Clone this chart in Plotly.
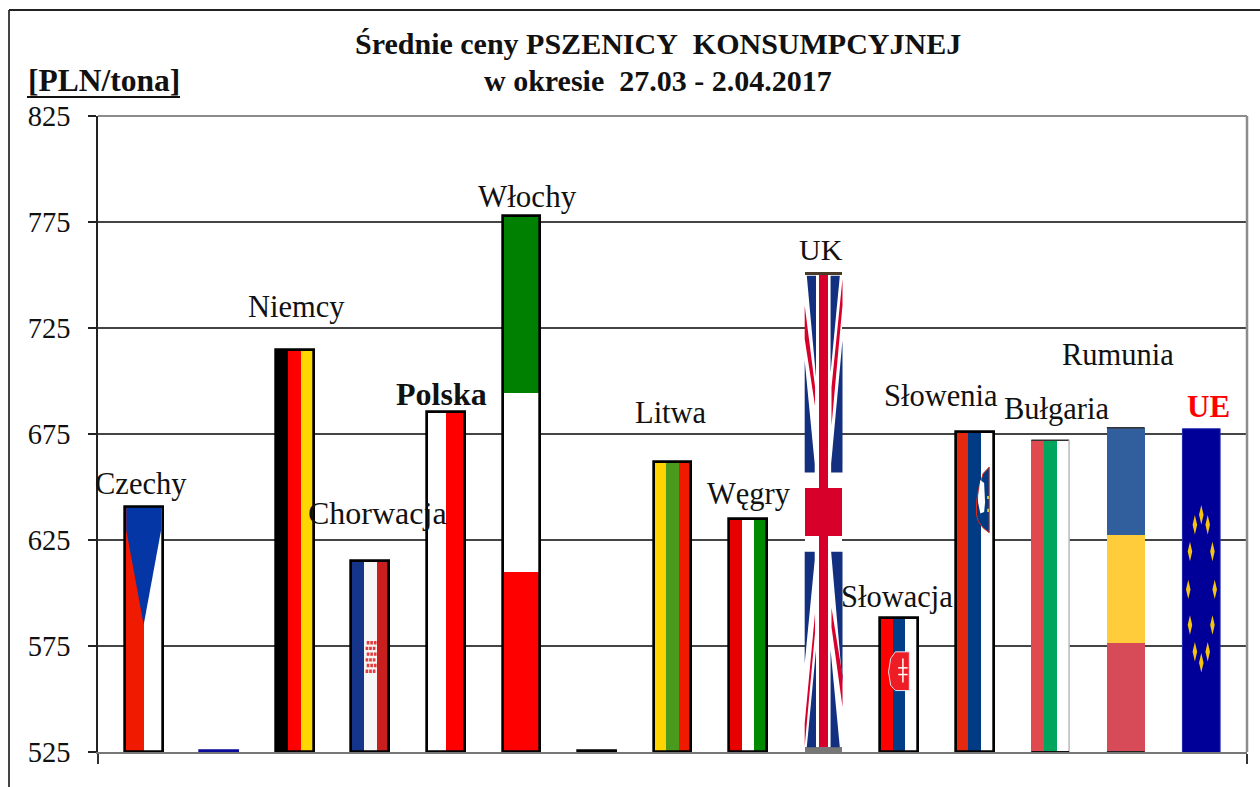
import plotly.graph_objects as go

# ---------- data ----------
countries = ["Czechy", "Dania", "Niemcy", "Chorwacja", "Polska", "Włochy", "Francja", "Litwa",
             "Węgry", "UK", "Słowacja", "Słowenia", "Bułgaria", "Rumunia", "UE"]
prices = [640.5, 525.7, 714.5, 615, 685.3, 778, 525.7, 662, 635, 751.5, 588, 676, 672, 678, 677.5]
y_ticks = [525, 575, 625, 675, 725, 775, 825]
BASE = 525
title_lines = ["Średnie ceny PSZENICY\u00a0\u00a0KONSUMPCYJNEJ", "w okresie\u00a0\u00a027.03 - 2.04.2017"]
unit_label = "[PLN/tona]"

# ---------- flag designs (styles) ----------
vertical = {
    "Czechy": ["#f01a00", "#ffffff"],
    "Niemcy": ["#000000", "#ff0000", "#ffd700"],
    "Chorwacja": ["#14358a", "#f6f6f6", "#c81e1e"],
    "Polska": ["#ffffff", "#ff0000"],
    "Litwa": ["#ffd400", "#4a9a1e", "#f01a00"],
    "Węgry": ["#e60000", "#ffffff", "#008a00"],
    "Słowacja": ["#ff0000", "#003f87", "#ffffff"],
    "Słowenia": ["#e5290f", "#003b84", "#ffffff"],
    "Bułgaria": ["#e04a4e", "#00a65d", "#ffffff"],
    "UE": ["#000099"],
}
horizontal = {  # bottom to top: (colour, from, to) as a share of the bar height
    "Włochy": [("#ff0000", 0, .335), ("#ffffff", .335, .6685), ("#008000", .6685, 1)],
    "Rumunia": [("#d64b57", 0, .336), ("#ffcd3c", .336, .67), ("#315f9e", .67, 1)],
    "UK": [("#ffffff", 0, 1), ("#d6002a", .449, .549), ("#777777", 0, .01), ("#4a3a2a", .994, 1)],
}
no_outline = ["UE", "UK", "Bułgaria", "Rumunia"]
HALF = 0.25  # half of a bar, in category units
OUTLINE_W = 2.7
idx = {c: i for i, c in enumerate(countries)}


def to_xy(country, pts):
    i = idx[country]
    h = prices[i] - BASE
    xs, ys = [], []
    for p in pts:
        if p is None:
            xs.append(None); ys.append(None)
        else:
            xs.append(i + p[0] * HALF)
            ys.append(BASE + p[1] * h)
    return xs, ys


fig = go.Figure()

for c, cols in vertical.items():
    w = 2 * HALF / len(cols)
    for k, col in enumerate(cols):
        fig.add_bar(x=[idx[c]], y=[prices[idx[c]] - BASE], base=[BASE], width=[w],
                    offset=[-HALF + k * w], marker=dict(color=col, line=dict(width=0)))
for c, bands in horizontal.items():
    h = prices[idx[c]] - BASE
    for col, a, b in bands:
        fig.add_bar(x=[idx[c]], y=[(b - a) * h], base=[BASE + a * h], width=[2 * HALF],
                    offset=[-HALF], marker=dict(color=col, line=dict(width=0)))
fig.add_bar(x=[idx["UK"]], y=[(prices[idx["UK"]] - BASE) * .984], base=[BASE + (prices[idx["UK"]] - BASE) * .01],
            width=[2 * HALF * .25], offset=[-HALF * .25], marker=dict(color="#d6002a", line=dict(width=0)))

# outlines carry the actual values
line_w = [0 if c in no_outline else OUTLINE_W for c in countries]
line_c = ["#0a0a9a" if c == "Dania" else "#000000" for c in countries]
fig.add_bar(x=list(range(len(countries))), y=[p - BASE for p in prices], base=[BASE] * len(prices),
            width=[2 * HALF] * len(prices), marker=dict(color="rgba(0,0,0,0)",
            line=dict(color=line_c, width=line_w)))


def poly(country, pts, color, line=None, lw=0):
    xs, ys = to_xy(country, pts)
    fig.add_scatter(x=xs, y=ys, mode="lines", fill="toself", fillcolor=color,
                    line=dict(color=line or color, width=lw), hoverinfo="skip")


def path(country, pts, color, lw):
    xs, ys = to_xy(country, pts)
    fig.add_scatter(x=xs, y=ys, mode="lines", line=dict(color=color, width=lw), hoverinfo="skip",
                    cliponaxis=False)


# Czech triangle
poly("Czechy", [(-.92, .997), (.92, .997), (.92, .906), (0, .52), (-.92, .906), (-.92, .997)], "#0437a5")

# Croatian emblem
cro = []
for row in range(6):
    for col in range(3):
        u = -.18 + col * .19 + (.06 if row % 2 else 0)
        v = .414 + row * .03
        cro += [(u - .07, v), (u + .07, v), (u + .07, v + .018), (u - .07, v + .018), (u - .07, v), None]
poly("Chorwacja", cro, "#e23c3c")

# Union Jack
uk_navy = [
    [(-.89, .992), (-.4, .992), (-.4, .78), (-.89, .992)],
    [(.37, .992), (.86, .992), (.37, .79), (.37, .992)],
    [(-1, .815), (-.47, .60), (-.47, .582), (-1, .582), (-1, .815)],
    [(1, .857), (.4, .60), (.4, .582), (1, .582), (1, .857)],
    [(-1, .417), (-.47, .417), (-.47, .40), (-1, .185), (-1, .417)],
    [(.4, .417), (1, .417), (1, .143), (.4, .40), (.4, .417)],
    [(-.89, .01), (-.4, .01), (-.4, .213), (-.89, .01)],
    [(.37, .01), (.86, .01), (.37, .213), (.37, .01)],
]
for p in uk_navy:
    poly("UK", p, "#12307f")
uk_red = [
    [(-1, .93), (-1, .86), (-.45, .72), (-.45, .76), (-1, .93)],
    [(1, .985), (1, .93), (.42, .68), (.42, .76), (1, .985)],
    [(-1, .012), (-1, .06), (-.45, .29), (-.45, .25), (-1, .012)],
    [(1, .095), (1, .16), (.42, .30), (.42, .26), (1, .095)],
]
for p in uk_red:
    poly("UK", p, "#d6002a")

# Slovak shield
poly("Słowacja", [(.54, .75), (-.2, .75), (-.45, .70), (-.56, .60), (-.45, .50), (-.2, .46), (.54, .46), (.54, .75)],
     "#ee1c25", "#dfe8f5", 1)
path("Słowacja", [(.2, .70), (.2, .52), None, (-.05, .63), (.45, .63), None, (-.05, .58), (.45, .58)], "#ffffff", 1.5)

# Slovenian shield
poly("Słowenia", [(.77, .89), (.45, .87), (.2, .82), (.1, .78), (.1, .74), (.2, .72), (.45, .70), (.77, .685), (.77, .89)],
     "#003b84", "#e5290f", 1)
poly("Słowenia", [(.18, .80), (.3, .85), (.5, .84), (.55, .78), (.5, .75), (.3, .745), (.18, .78), (.18, .80)], "#ffffff")
poly("Słowenia", [(.66, .80), (.76, .80), (.76, .79), (.66, .79), None, (.66, .76), (.76, .76), (.76, .75), (.66, .75)], "#d8c040")

# EU stars
stars = [(0, .734), (-.34, .703), (.34, .703), (-.6, .62), (.59, .62), (-.69, .503), (.71, .503),
         (-.6, .393), (.59, .393), (-.34, .31), (.34, .31), (0, .276)]
spts = []
for u, v in stars:
    spts += [(u - .12, v), (u, v + .03), (u + .12, v), (u, v - .03), (u - .12, v), None]
poly("UE", spts, "#f4c40f")

# partial edges of the bars without a full outline
path("Bułgaria", [(-1, 1), (1, 1)], "#333333", 1.5)
path("Bułgaria", [(1, 1), (1, 0)], "#bbbbbb", 1.5)
path("Bułgaria", [(-1, 0), (1, 0)], "#111111", 2)
path("Rumunia", [(-1, 1), (1, 1)], "#333333", 1.5)
path("Rumunia", [(-1, 0), (1, 0)], "#222222", 2)
path("UE", [(-1, 0), (-1, 1), (1, 1), (1, 0)], "#2230b0", 1)

# the flat market: only a sliver of colour shows below its outline
path("Francja", [(-.92, -.8), (.92, -.8)], "#58a020", 1.6)

# ---------- page geometry ----------
W, H = 1260, 787
L, R, T, B = 98, 1247, 116, 752


def px(x):
    return (x - L) / (R - L)


def py(y):
    return (B - y) / (B - T)


def note(text, x, y, size, color="#111111"):
    fig.add_annotation(text=text, x=px(x), y=py(y), xref="paper", yref="paper", showarrow=False,
                       xanchor="center", yanchor="middle", align="center",
                       font=dict(family="Liberation Serif", size=size, color=color))


labels = [("Czechy", 141, 484, 30.5), ("Niemcy", 296, 307, 30.5), ("Chorwacja", 377, 513, 32), ("<b>Polska</b>", 441, 394, 32),
          ("Włochy", 527, 196, 31), ("Litwa", 671, 413, 30.5), ("Węgry", 749, 494, 30.5), ("UK", 821, 249, 30),
          ("Słowacja", 897, 597, 30.5), ("Słowenia", 941, 396, 30.5), ("Bułgaria", 1056, 409, 30.5), ("Rumunia", 1118, 355, 30.5)]
for t, x, y, s in labels:
    note(t, x, y, s)
note("<b>UE</b>", 1208, 407, 31, "#ff0000")
note("<b>" + title_lines[0] + "</b>", 658, 43, 30)
note("<b>" + title_lines[1] + "</b>", 658, 81, 30)
note("<b>" + unit_label + "</b>", 104, 80, 31.5)

shapes = [
    dict(type="line", xref="paper", yref="paper", x0=px(9), x1=px(9), y0=py(787), y1=py(10), line=dict(color="#444444", width=2)),
    dict(type="line", xref="paper", yref="paper", x0=px(9), x1=px(1260), y0=py(10), y1=py(10), line=dict(color="#222222", width=2)),
    dict(type="line", xref="paper", yref="paper", x0=0, x1=1, y0=1, y1=1, line=dict(color="#8c8c8c", width=2)),
    dict(type="line", xref="paper", yref="paper", x0=1, x1=1, y0=0, y1=1, line=dict(color="#8c8c8c", width=2.5)),
    dict(type="line", xref="paper", yref="paper", x0=px(27), x1=px(180), y0=py(97), y1=py(97), line=dict(color="#111111", width=2)),
]

x_lo = -0.605
x_hi = 14.605
fig.update_layout(
    width=W, height=H, margin=dict(l=L, r=W - R, t=T, b=H - B, pad=0),
    paper_bgcolor="white", plot_bgcolor="white", barmode="overlay", bargap=0,
    showlegend=False, shapes=shapes, hovermode=False,
    xaxis=dict(range=[x_lo, x_hi], tickmode="array", tickvals=[x_lo, x_hi], ticktext=["", ""],
               ticks="outside", ticklen=10, tickcolor="#333333", tickwidth=1.5, layer="below traces",
               showgrid=False, zeroline=False, showline=True, linecolor="#777777", linewidth=2),
    yaxis=dict(range=[BASE, 825], tickmode="array", tickvals=y_ticks,
               ticks="outside", ticklen=8, tickcolor="#222222", tickwidth=1.5,
               tickfont=dict(family="Liberation Serif", size=28.5, color="#111111"),
               ticklabelstandoff=12, showgrid=True, gridcolor="#444444", gridwidth=1.6,
               zeroline=False, showline=True, linecolor="#222222", linewidth=1.5),
)

fig.write_html("out.html", config={"displayModeBar": False},
               post_script="document.body.style.margin='0';document.body.style.overflow='hidden';")
